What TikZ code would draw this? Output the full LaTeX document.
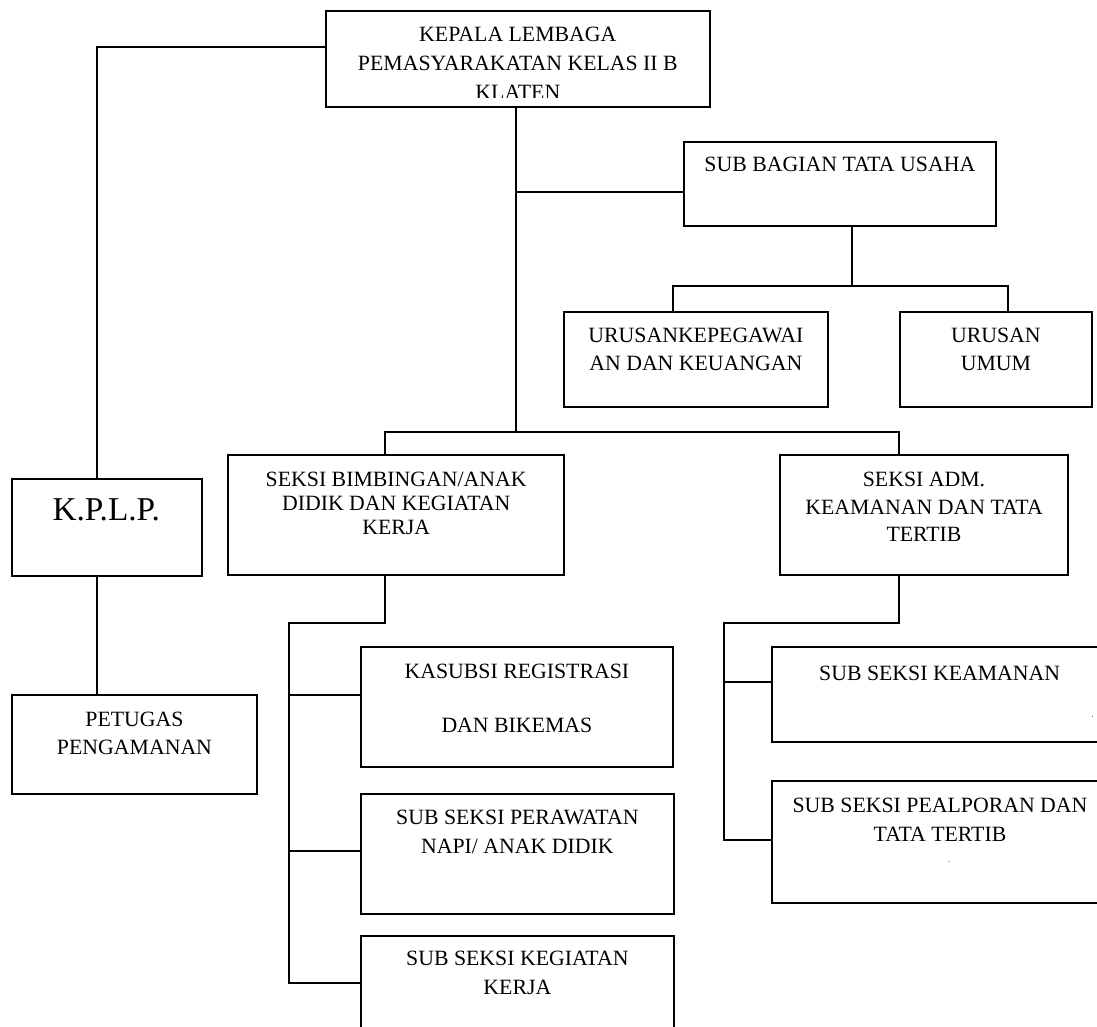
\documentclass[tikz,border=0pt]{standalone}
\usepackage{fontspec}
\setmainfont{Liberation Serif}
\begin{document}
\begin{tikzpicture}[x=1pt,y=-1pt,
  box/.style={draw, line width=2pt, rectangle, inner sep=0pt, outer sep=0pt, anchor=north west},
  lbl/.style={font=\fontsize{21.8}{28}\selectfont, align=center, inner sep=0pt, outer sep=0pt, anchor=north},
  wire/.style={line width=2pt}]
\useasboundingbox (0,0) rectangle (1097,1027);
\clip (0,0) rectangle (1097,1027);

% boxes
\node[box, minimum width=384.3pt, minimum height=96.3pt] (kepala) at (325.7,11) {};
\node[box, minimum width=311.9pt, minimum height=84.3pt] (tu) at (683.9,141.7) {};
\node[box, minimum width=264.6pt, minimum height=95.6pt] (uk) at (563.6,311.7) {};
\node[box, minimum width=192.2pt, minimum height=95.6pt] (uu) at (899.8,311.7) {};
\node[box, minimum width=190pt, minimum height=96.4pt] (kplp) at (11.7,479.3) {};
\node[box, minimum width=245.6pt, minimum height=98.7pt] (petugas) at (11.7,695.3) {};
\node[box, minimum width=336.3pt, minimum height=120pt] (sb) at (228,455) {};
\node[box, minimum width=288.6pt, minimum height=120pt] (sa) at (779.7,455) {};
\node[box, minimum width=312.3pt, minimum height=120pt] (ks) at (360.7,647.2) {};
\node[box, minimum width=312.7pt, minimum height=120.5pt] (sp) at (361,793.5) {};
\node[box, minimum width=312.7pt, minimum height=110pt] (sk) at (361,935.7) {};
\node[box, minimum width=335pt, minimum height=94.7pt] (ke) at (772.3,647) {};
\node[box, minimum width=335pt, minimum height=122.3pt] (pl) at (772.3,781) {};

% texts
\begin{scope}
\clip (325.7,11) rectangle (710,97.8);
\node[lbl, font=\fontsize{21.8}{28.6}\selectfont] (kepalaT) at (517.85,27.4) {KEPALA LEMBAGA\\PEMASYARAKATAN KELAS II B\\KLATEN};
\end{scope}
\node[lbl] (tuT) at (839.85,157.4) {SUB BAGIAN TATA USAHA};
\node[lbl, font=\fontsize{21.8}{27.7}\selectfont] (ukT) at (695.9,328) {URUSANKEPEGAWAI\\AN DAN KEUANGAN};
\node[lbl, font=\fontsize{21.8}{27.7}\selectfont] (uuT) at (995.9,328) {URUSAN\\UMUM};
\node[lbl, font=\fontsize{33.3}{38}\selectfont] (kplpT) at (106.2,498.5) {K.P.L.P.};
\node[lbl] (petugasT) at (134.5,711.7) {PETUGAS\\PENGAMANAN};
\node[lbl, font=\fontsize{21.8}{24}\selectfont] (sbT) at (396.2,471.7) {SEKSI BIMBINGAN/ANAK\\DIDIK DAN KEGIATAN\\KERJA};
\node[lbl, font=\fontsize{21.8}{27.5}\selectfont] (saT) at (924,472.4) {SEKSI ADM.\\KEAMANAN DAN TATA\\TERTIB};
\node[lbl, font=\fontsize{21.8}{27}\selectfont] (ksT) at (516.9,663.7) {KASUBSI REGISTRASI\\[27pt]DAN BIKEMAS};
\node[lbl, font=\fontsize{21.8}{29}\selectfont] (spT) at (517.35,809.7) {SUB SEKSI PERAWATAN\\NAPI/ ANAK DIDIK};
\node[lbl, font=\fontsize{21.8}{29}\selectfont] (skT) at (517.35,950.7) {SUB SEKSI KEGIATAN\\KERJA};
\node[lbl] (keT) at (939.7,665.7) {SUB SEKSI KEAMANAN};
\node[lbl, font=\fontsize{21.8}{29}\selectfont] (plT) at (940,798.4) {SUB SEKSI PEALPORAN DAN\\TATA TERTIB};
\node[font=\fontsize{8}{8}\selectfont, inner sep=0pt] (dot1) at (1092.5,717) {.};
\node[font=\fontsize{8}{8}\selectfont, inner sep=0pt] (dot2) at (949,862) {.};

% connectors
\coordinate (lk) at (97,47.3);
\draw[wire] (kepala.west |- lk) -- (lk) -- (lk |- kplp.north);
\draw[wire] (lk |- kplp.south) -- (lk |- petugas.north);

\coordinate (ms) at (516,431.5);
\draw[wire] (ms |- kepala.south) -- (ms);
\coordinate (tb) at (516,191.7);
\draw[wire] (tb) -- (tb -| tu.west);

\coordinate (tus) at (852.2,286);
\coordinate (ukx) at (673.3,286);
\coordinate (uux) at (1008.4,286);
\draw[wire] (tus |- tu.south) -- (tus);
\draw[wire] (ukx |- uk.north) -- (ukx) -- (uux) -- (uux |- uu.north);

\coordinate (sbx) at (384.8,431.5);
\coordinate (sax) at (899.3,431.5);
\draw[wire] (sbx |- sb.north) -- (sbx) -- (sax) -- (sax |- sa.north);

\coordinate (sbd) at (384.8,623.2);
\coordinate (sbl) at (289.3,623.2);
\coordinate (sbe) at (289.3,983);
\draw[wire] (sbd |- sb.south) -- (sbd) -- (sbl) -- (sbe) -- (sbe -| sk.west);
\coordinate (b1) at (289.3,695.2);
\draw[wire] (b1) -- (b1 -| ks.west);
\coordinate (b2) at (289.3,850.5);
\draw[wire] (b2) -- (b2 -| sp.west);

\coordinate (sad) at (899.3,622.7);
\coordinate (sal) at (724.3,622.7);
\coordinate (sae) at (724.3,839.5);
\draw[wire] (sad |- sa.south) -- (sad) -- (sal) -- (sae) -- (sae -| pl.west);
\coordinate (c1) at (724.3,681.7);
\draw[wire] (c1) -- (c1 -| ke.west);
\end{tikzpicture}
\end{document}
